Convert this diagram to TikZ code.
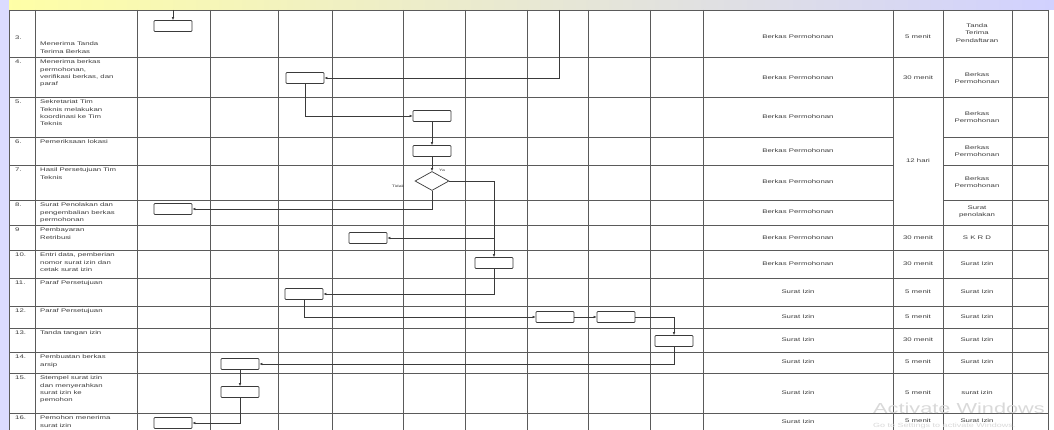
\documentclass[tikz,border=0pt]{standalone}
\usepackage{fontspec}
\setmainfont{Liberation Sans}
\newfontfamily\tfont[FakeStretch=1.5]{Liberation Sans}
\usetikzlibrary{arrows.meta,shapes.geometric}
\definecolor{gridc}{HTML}{5A5A5A}
\definecolor{linec}{HTML}{3A3A3A}
\definecolor{txtc}{HTML}{3C3C3C}
\begin{document}
\begin{tikzpicture}[x=1pt,y=-1pt,
  grid/.style={draw=gridc,line width=0.9pt},
  txt/.style={font=\tfont\fontsize{5.2}{7.3}\selectfont,text=txtc,inner sep=0pt},
  desc/.style={txt,anchor=north west,align=left},
  num/.style={txt,anchor=north west},
  cellc/.style={txt,align=center},
  procbox/.style={draw=linec,line width=0.7pt,rounded corners=0.8pt,minimum width=38pt,minimum height=11pt,inner sep=0pt,fill=white},
  decbox/.style={draw=linec,line width=0.7pt,diamond,aspect=1.8,minimum width=34pt,minimum height=19pt,inner sep=0pt,fill=white},
  flow/.style={draw=linec,line width=0.6pt,-{Latex[length=3pt,width=2.6pt]}},
  lbl/.style={font=\tfont\fontsize{3.4}{4}\selectfont,text=txtc,inner sep=0pt}]
\useasboundingbox (0,0) rectangle (1054,430);
\clip (0,0) rectangle (1054,430);
% background
\fill[white] (0,0) rectangle (1054,430);
\shade[left color=yellow!35,middle color=red!22,right color=blue!18] (0,0) rectangle (1054,10);
\fill[blue!14] (0,0) rectangle (9,430);
% horizontal grid lines
\draw[grid] (9,10) -- (1048,10);
\foreach \y in {57,97,250,278,306,328,352,373,413}
  \draw[grid] (9,\y) -- (1048,\y);
\draw[grid] (9,225) -- (1048,225);
\foreach \y in {137,165,200} {
  \draw[grid] (9,\y) -- (893,\y);
  \draw[grid] (943,\y) -- (1048,\y);
}
% vertical grid lines
\foreach \x in {9,35,137,210,278,332,403,465,527,588,650,703,893,943,1012,1048}
  \draw[grid] (\x,10) -- (\x,432);
% row numbers
\node[txt,anchor=west] (n3) at (15,38) {3.};
\node[num] (n4) at (15,60) {4.};
\node[num] (n5) at (15,100) {5.};
\node[num] (n6) at (15,140) {6.};
\node[num] (n7) at (15,168) {7.};
\node[num] (n8) at (15,203) {8.};
\node[num] (n9) at (15,228) {9};
\node[num] (n10) at (15,253) {10.};
\node[num] (n11) at (15,281) {11.};
\node[num] (n12) at (15,309) {12.};
\node[num] (n13) at (15,331) {13.};
\node[num] (n14) at (15,355) {14.};
\node[num] (n15) at (15,376) {15.};
\node[num] (n16) at (15,416) {16.};
% descriptions
\node[desc] (d3) at (40,42) {Menerima Tanda\\Terima Berkas};
\node[desc] (d4) at (40,60) {Menerima berkas\\permohonan,\\verifikasi berkas, dan\\paraf};
\node[desc] (d5) at (40,100) {Sekretariat Tim\\Teknis melakukan\\koordinasi ke Tim\\Teknis};
\node[desc] (d6) at (40,140) {Pemeriksaan lokasi};
\node[desc] (d7) at (40,168) {Hasil Persetujuan Tim\\Teknis};
\node[desc] (d8) at (40,203) {Surat Penolakan dan\\pengembalian berkas\\permohonan};
\node[desc] (d9) at (40,228) {Pembayaran\\Retribusi};
\node[desc] (d10) at (40,253) {Entri data, pemberian\\nomor surat izin dan\\cetak surat izin};
\node[desc] (d11) at (40,281) {Paraf Persetujuan};
\node[desc] (d12) at (40,309) {Paraf Persetujuan};
\node[desc] (d13) at (40,331) {Tanda tangan izin};
\node[desc] (d14) at (40,355) {Pembuatan berkas\\arsip};
\node[desc] (d15) at (40,376) {Stempel surat izin\\dan menyerahkan\\surat izin ke\\pemohon};
\node[desc] (d16) at (40,416) {Pemohon menerima\\surat izin};
% kelengkapan column
\foreach \y [count=\i] in {37,78,117,151,182,212,238,264}
  \node[cellc] (k\i) at (798,\y) {Berkas Permohonan};
\foreach \y [count=\i] in {292,317,340,362,393,422}
  \node[cellc] (ks\i) at (798,\y) {Surat Izin};
% waktu column
\node[cellc] (w3) at (918,37) {5 menit};
\node[cellc] (w4) at (918,78) {30 menit};
\node[cellc] (w5) at (918,161) {12 hari};
\node[cellc] (w9) at (918,238) {30 menit};
\node[cellc] (w10) at (918,264) {30 menit};
\node[cellc] (w11) at (918,292) {5 menit};
\node[cellc] (w12) at (918,317) {5 menit};
\node[cellc] (w13) at (918,340) {30 menit};
\node[cellc] (w14) at (918,362) {5 menit};
\node[cellc] (w15) at (918,393) {5 menit};
\node[cellc] (w16) at (918,421) {5 menit};
% output column
\node[cellc] (o3) at (977,33) {Tanda\\Terima\\Pendaftaran};
\node[cellc] (o4) at (977,78) {Berkas\\Permohonan};
\node[cellc] (o5) at (977,117) {Berkas\\Permohonan};
\node[cellc] (o6) at (977,151) {Berkas\\Permohonan};
\node[cellc] (o7) at (977,182) {Berkas\\Permohonan};
\node[cellc] (o8) at (977,212) {Surat\\penolakan};
\node[cellc] (o9) at (977,238) {S K R D};
\node[cellc] (o10) at (977,264) {Surat Izin};
\node[cellc] (o11) at (977,292) {Surat Izin};
\node[cellc] (o12) at (977,317) {Surat Izin};
\node[cellc] (o13) at (977,340) {Surat Izin};
\node[cellc] (o14) at (977,362) {Surat Izin};
\node[cellc] (o15) at (977,393) {surat izin};
\node[cellc] (o16) at (977,421) {Surat Izin};
% flow shapes
\node[procbox] (b3) at (173,26) {};
\node[procbox] (b4) at (305,78) {};
\node[procbox] (b5) at (432,116) {};
\node[procbox] (b6) at (432,151) {};
\node[decbox] (dd7) at (432,181) {};
\node[procbox] (b8) at (173,209) {};
\node[procbox] (b9) at (368,238) {};
\node[procbox] (b10) at (494,263) {};
\node[procbox] (b11) at (304,294) {};
\node[procbox] (b12a) at (555,317) {};
\node[procbox] (b12b) at (616,317) {};
\node[procbox] (b13) at (674,341) {};
\node[procbox] (b14) at (240,364) {};
\node[procbox] (b15) at (240,392) {};
\node[procbox] (b16) at (173,423) {};
\node[lbl] (ya) at (442,170) {Ya};
\node[lbl] (tidak) at (398,186) {Tidak};
\coordinate (t3) at (173,10);
\coordinate (t4) at (559,10);
% connectors
\draw[flow] (t3) -- (b3.north);
\draw[flow] (t4) |- (b4.east);
\draw[flow] (b4.south) |- (b5.west);
\draw[flow] (b5.south) -- (b6.north);
\draw[flow] (b6.south) -- (dd7.north);
\draw[flow] (dd7.south) |- (b8.east);
\draw[flow] (dd7.east) -| (b10.north);
\draw[flow] (b10.north |- b9.east) -- (b9.east);
\draw[flow] (b10.south) |- (b11.east);
\draw[flow] (b11.south) |- (b12a.west);
\draw[flow] (b12a.east) -- (b12b.west);
\draw[flow] (b12b.east) -| (b13.north);
\draw[flow] (b13.south) |- (b14.east);
\draw[flow] (b14.south) -- (b15.north);
\draw[flow] (b15.south) |- (b16.east);
% watermark
\node[font=\tfont\fontsize{14.5}{16}\selectfont,text=gray!30,anchor=west,inner sep=0pt] (aw) at (873,408) {Activate Windows};
\node[font=\tfont\fontsize{6}{7}\selectfont,text=gray!30,anchor=west,inner sep=0pt] (gs) at (873,426) {Go to Settings to activate Windows.};
\end{tikzpicture}
\end{document}
